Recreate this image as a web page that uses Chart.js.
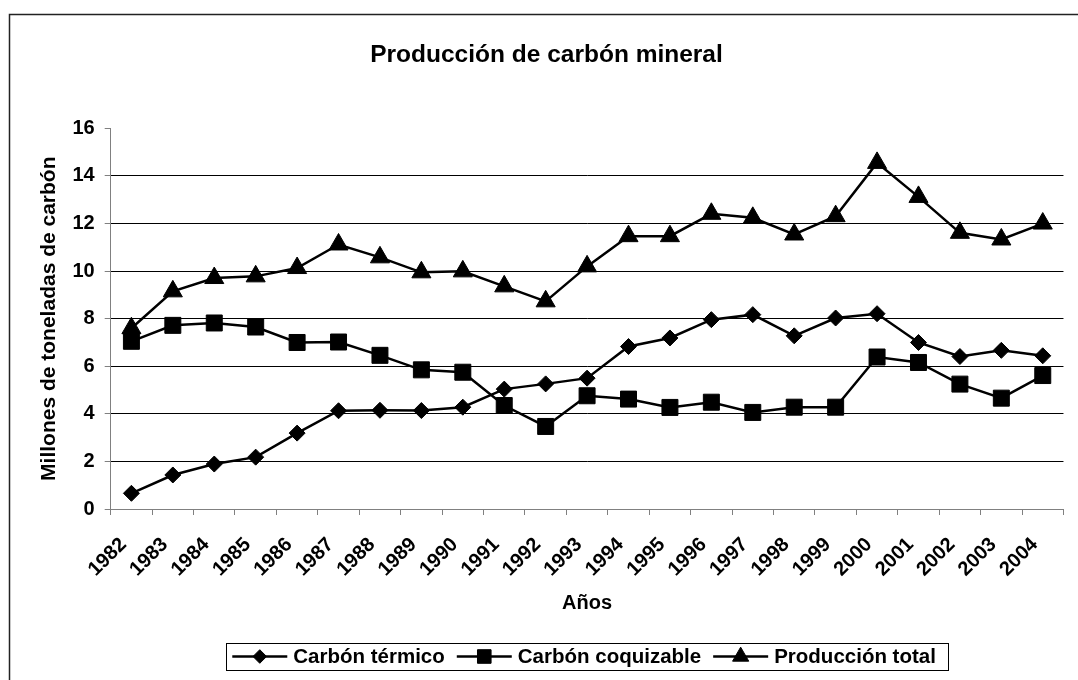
<!DOCTYPE html>
<html>
<head>
<meta charset="utf-8">
<script src="https://cdn.jsdelivr.net/npm/chart.js@4.4.0/dist/chart.umd.min.js"></script>
<style>
  html, body { margin: 0; padding: 0; background: #fff; }
  #wrap { width: 1078px; height: 680px; position: relative; }
</style>
</head>
<body>
<div id="wrap"><canvas id="chart" width="1078" height="680"></canvas></div>
<script>
const years = ['1982', '1983', '1984', '1985', '1986', '1987', '1988', '1989', '1990', '1991', '1992',
  '1993', '1994', '1995', '1996', '1997', '1998', '1999', '2000', '2001', '2002', '2003', '2004'];
const termico = [0.66, 1.43, 1.89, 2.18, 3.19, 4.13, 4.15, 4.14, 4.28, 5.04, 5.26, 5.50,
  6.83, 7.19, 7.96, 8.17, 7.28, 8.03, 8.21, 7.00, 6.41, 6.67, 6.44];
const coquizable = [7.05, 7.72, 7.82, 7.65, 7.00, 7.02, 6.46, 5.85, 5.75, 4.35, 3.47, 4.76,
  4.62, 4.27, 4.49, 4.06, 4.28, 4.28, 6.39, 6.16, 5.25, 4.66, 5.61];
const total = [7.60, 9.15, 9.71, 9.78, 10.13, 11.12, 10.58, 9.95, 9.99, 9.36, 8.73, 10.20,
  11.47, 11.47, 12.41, 12.24, 11.54, 12.31, 14.55, 13.12, 11.61, 11.33, 12.00];
const seriesNames = ['Carbón térmico', 'Carbón coquizable', 'Producción total'];
const yTicks = [0, 2, 4, 6, 8, 10, 12, 14, 16];

const family = "'Liberation Sans', Arial, sans-serif";

// white background + outer frame
const frame = {
  id: 'frame',
  beforeDraw(chart) {
    const ctx = chart.ctx;
    ctx.save();
    ctx.fillStyle = '#fff';
    ctx.fillRect(0, 0, chart.width, chart.height);
    ctx.restore();
  },
  afterDraw(chart) {
    const ctx = chart.ctx;
    ctx.save();
    ctx.strokeStyle = '#222';
    ctx.lineWidth = 1.5;
    ctx.strokeRect(9.5, 14.5, 1076, 700);
    ctx.restore();
  }
};

// excel style legend: line with marker in the middle
const legendBox = {
  id: 'legendBox',
  afterDraw(chart) {
    const ctx = chart.ctx;
    const area = chart.chartArea;
    ctx.save();
    ctx.font = 'bold 20.5px ' + family;
    const lineLen = 55, gapText = 6, gapItem = 12, padL = 6, padR = 12;
    const items = chart.data.datasets.map(ds => ({ ds: ds, w: ctx.measureText(ds.label).width }));
    let boxW = padL + padR + gapItem * (items.length - 1);
    items.forEach(it => { boxW += lineLen + gapText + it.w; });
    let x = (area.left + area.right) / 2 - boxW / 2;
    const top = 643, h = 27, cy = top + h / 2;
    ctx.fillStyle = '#fff';
    ctx.fillRect(x, top, boxW, h);
    ctx.strokeStyle = '#000';
    ctx.lineWidth = 1;
    ctx.strokeRect(Math.round(x) + 0.5, top + 0.5, Math.round(boxW), h);
    x += padL;
    items.forEach(it => {
      ctx.strokeStyle = '#000';
      ctx.lineWidth = 2.5;
      ctx.beginPath();
      ctx.moveTo(x, cy);
      ctx.lineTo(x + lineLen, cy);
      ctx.stroke();
      ctx.fillStyle = '#000';
      ctx.lineWidth = 1;
      Chart.helpers.drawPoint(ctx, {
        pointStyle: it.ds.pointStyle,
        radius: it.ds.pointRadius * 0.85,
        rotation: 0,
        borderWidth: 1
      }, x + lineLen / 2, cy);
      ctx.fillStyle = '#000';
      ctx.textBaseline = 'middle';
      ctx.textAlign = 'left';
      ctx.fillText(it.ds.label, x + lineLen + gapText, cy + 1);
      x += lineLen + gapText + it.w + gapItem;
    });
    ctx.restore();
  }
};

function makeSeries(label, data, style, radius) {
  return {
    label: label,
    data: data,
    borderColor: '#000',
    backgroundColor: '#000',
    borderWidth: 2.5,
    tension: 0,
    pointStyle: style,
    pointRadius: radius,
    pointHoverRadius: radius,
    pointBackgroundColor: '#000',
    pointBorderColor: '#000',
    pointBorderWidth: 1
  };
}

const ctx = document.getElementById('chart').getContext('2d');
const chart = new Chart(ctx, {
  type: 'line',
  data: {
    labels: years,
    datasets: [
      makeSeries(seriesNames[0], termico, 'rectRot', 8),
      makeSeries(seriesNames[1], coquizable, 'rect', 11.3),
      makeSeries(seriesNames[2], total, 'triangle', 11)
    ]
  },
  options: {
    responsive: false,
    animation: false,
    events: [],
    layout: { padding: { left: 22, right: 7, top: 0, bottom: 0 } },
    plugins: {
      legend: { display: false },
      tooltip: { enabled: false },
      title: {
        display: true,
        text: 'Producción de carbón mineral',
        color: '#000',
        font: { family: family, size: 24.5, weight: 'bold' },
        padding: { top: 41, bottom: 58 }
      }
    },
    scales: {
      x: {
        type: 'category',
        offset: true,
        afterFit(scale) { scale.height = 171; },
        grid: { offset: true, drawOnChartArea: false, drawTicks: true, tickLength: 6, tickColor: '#808080' },
        border: { color: '#808080', width: 1 },
        ticks: {
          color: '#000',
          autoSkip: false,
          maxRotation: 45,
          minRotation: 45,
          padding: 18,
          labelOffset: -8,
          font: { family: family, size: 20, weight: 'bold' }
        },
        title: {
          display: true,
          text: 'Años',
          color: '#000',
          font: { family: family, size: 20, weight: 'bold' },
          padding: { top: 0, bottom: 65 }
        }
      },
      y: {
        min: 0,
        max: 16,
        afterFit(scale) { scale.width = 88.7; },
        afterBuildTicks(scale) { scale.ticks = yTicks.map(v => ({ value: v })); },
        grid: {
          color: c => (c.tick && (c.tick.value === 0 || c.tick.value === 16)) ? 'rgba(0,0,0,0)' : '#000',
          lineWidth: 1,
          tickLength: 6,
          tickColor: '#808080'
        },
        border: { color: '#808080', width: 1 },
        ticks: {
          color: '#000',
          padding: 10,
          font: { family: family, size: 20, weight: 'bold' }
        },
        title: {
          display: true,
          text: 'Millones de toneladas de carbón',
          color: '#000',
          font: { family: family, size: 21, weight: 'bold' },
          padding: { top: 15, bottom: 0 }
        }
      }
    }
  },
  plugins: [frame, legendBox]
});
</script>
</body>
</html>
